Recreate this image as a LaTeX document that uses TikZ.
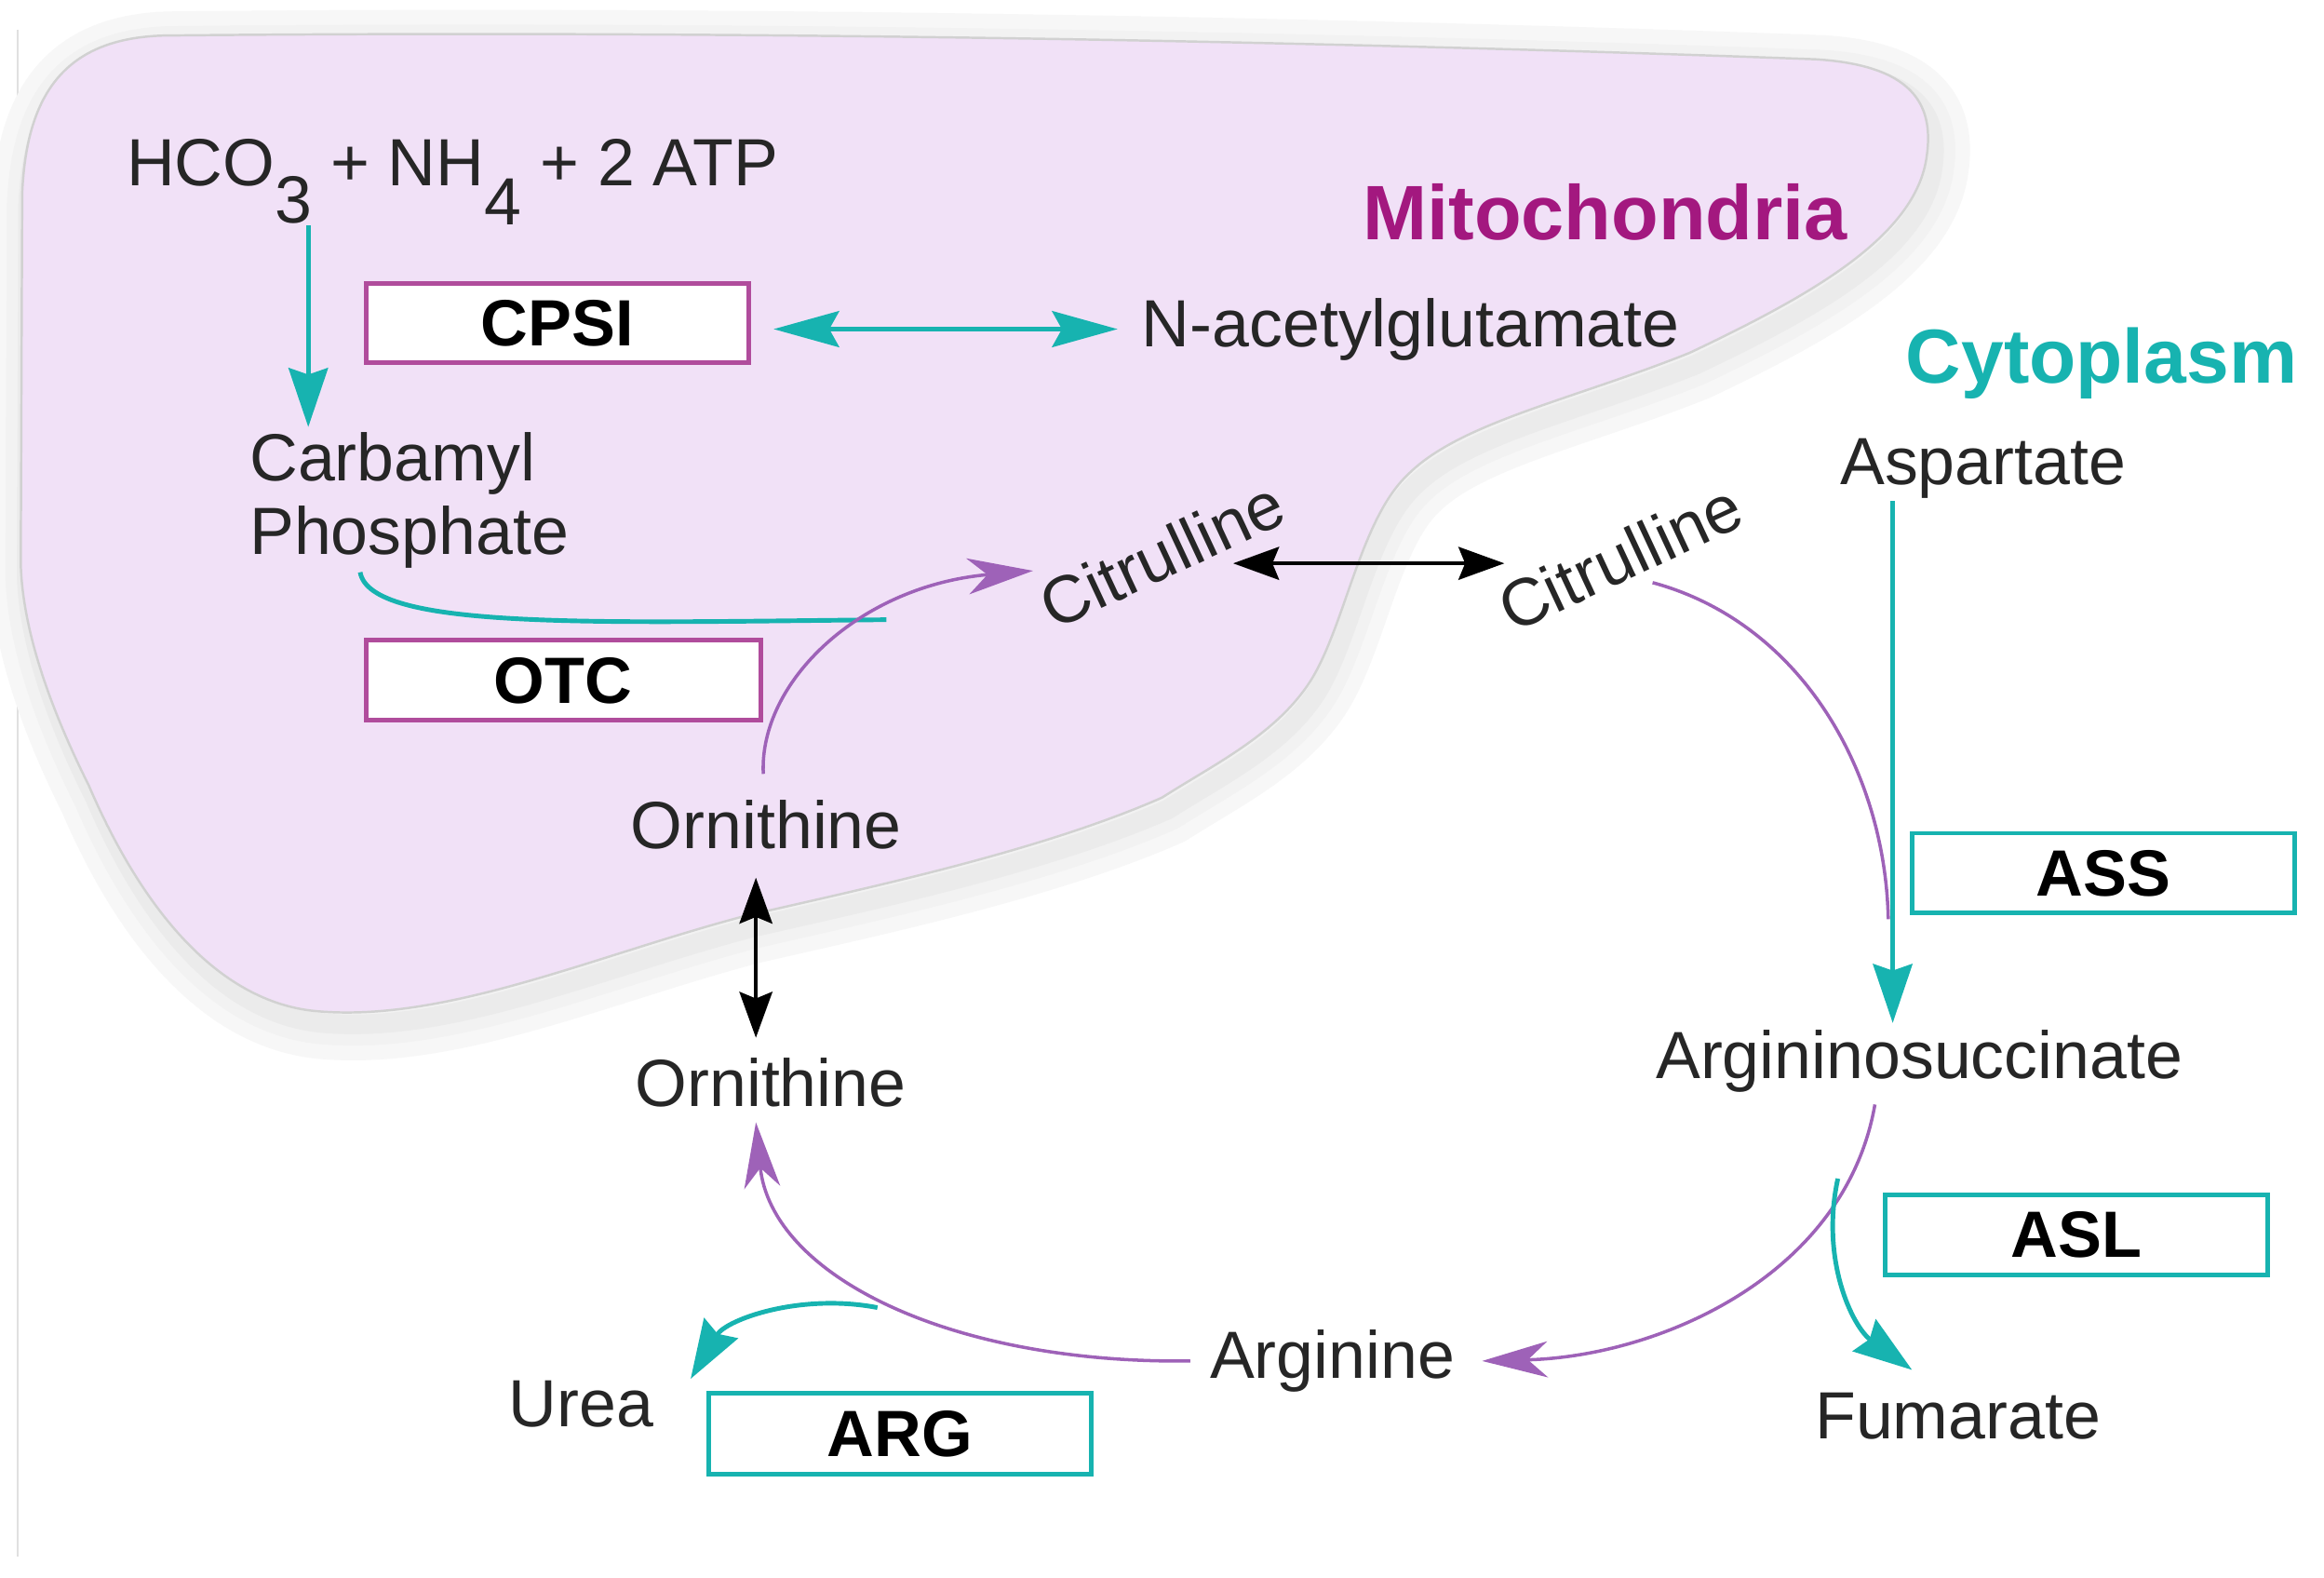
\documentclass[tikz,border=0pt]{standalone}
\usepackage{fontspec}
\setmainfont{Liberation Sans}
\usetikzlibrary{arrows.meta}
\definecolor{cyanL}{HTML}{17B3B0}
\definecolor{purp}{HTML}{9E62B8}
\definecolor{mag}{HTML}{B04C9C}
\definecolor{mitotxt}{HTML}{A3187F}
\definecolor{blobfill}{HTML}{F1E1F7}
\definecolor{txt}{HTML}{262626}
\newcommand\blobp{(15,130) .. controls (18,62) and (45,26) .. (110,24)
 .. controls (500,20) and (900,28) .. (1225,40)
 .. controls (1290,44) and (1305,70) .. (1300,105)
 .. controls (1293,160) and (1220,200) .. (1140,238)
 .. controls (1060,270) and (985,285) .. (950,320)
 .. controls (918,350) and (908,420) .. (885,458)
 .. controls (862,495) and (820,515) .. (784,538)
 .. controls (700,575) and (580,600) .. (502,618)
 .. controls (400,645) and (300,690) .. (213,682)
 .. controls (140,675) and (90,600) .. (60,530)
 .. controls (30,470) and (15,420) .. (14,380) -- cycle}
\begin{document}
\begin{tikzpicture}[x=0.15925mm,y=-0.15925mm,
  lbl/.style={font=\fontsize{20.4}{24}\selectfont, text=txt, inner sep=0pt},
  enz/.style={draw=#1, line width=1.4pt, fill=white, minimum width=41.1mm,
    minimum height=8.5mm, inner sep=0pt, font=\fontsize{20}{24}\selectfont\bfseries, text=black},
  cyarrow/.style={draw=cyanL, line width=1.4pt, -{Stealth[length=18pt,width=12pt,inset=2pt]}},
  cyline/.style={draw=cyanL, line width=1.4pt},
  cydouble/.style={draw=cyanL, line width=1.4pt, {Stealth[length=20pt,width=11pt,inset=3pt]}-{Stealth[length=20pt,width=11pt,inset=3pt]}},
  puarrow/.style={draw=purp, line width=1pt, -{Stealth[length=20pt,width=11pt,inset=6pt]}},
  puline/.style={draw=purp, line width=1pt},
  bkdouble/.style={draw=black, line width=1.3pt, {Stealth[length=14pt,width=10pt,inset=2pt]}-{Stealth[length=14pt,width=10pt,inset=2pt]}}
]
\useasboundingbox[fill=white] (0,0) rectangle (1568,1064);
\draw[black!12, line width=0.6pt] (12,20) -- (12,1050);
% mitochondria blob with soft shadow
\begin{scope}[shift={(4,8)}]
  \draw[black!3, line width=22pt, line join=round] \blobp;
  \draw[black!5, line width=13pt, line join=round] \blobp;
  \draw[black!8, line width=6pt, line join=round] \blobp;
\end{scope}
\fill[blobfill] \blobp;
\draw[black!18, line width=0.7pt] \blobp;

% labels
\node[lbl, anchor=base west] (hco) at (85,125) {HCO\raisebox{-11.5pt}{3} + NH\raisebox{-12pt}{4} + 2 ATP};
\node[font=\fontsize{23.6}{28}\selectfont\bfseries, text=mitotxt, inner sep=0pt] (mito) at (1083,143) {Mitochondria};
\node[font=\fontsize{23.4}{28}\selectfont\bfseries, text=cyanL, inner sep=0pt] (cyto) at (1418,245) {Cytoplasm};
\node[enz=mag] (cpsi) at (376,218) {CPSI};
\node[enz=mag, minimum width=42.4mm, minimum height=8.6mm] (otc) at (380,459) {OTC};
\node[enz=cyanL, minimum height=8.6mm] (ass) at (1419,589) {ASS};
\node[enz=cyanL, minimum height=8.6mm] (asl) at (1401,833) {ASL};
\node[enz=cyanL, minimum height=8.7mm] (arg) at (607,967) {ARG};
\node[lbl, anchor=west] (nag) at (770,222) {N-acetylglutamate};
\node[lbl, anchor=west] (carb) at (168,313) {Carbamyl};
\node[lbl, anchor=west] (phos) at (168,362) {Phosphate};
\node[lbl, rotate=25] (citL) at (784,374) {Citrulline};
\node[lbl, rotate=25] (citR) at (1093,376) {Citrulline};
\node[lbl] (asp) at (1338,316) {Aspartate};
\node[lbl] (ornA) at (517,556) {Ornithine};
\node[lbl] (ornB) at (520,730) {Ornithine};
\node[lbl] (argsuc) at (1295,716) {Argininosuccinate};
\node[lbl] (fum) at (1321,955) {Fumarate};
\node[lbl] (argn) at (899,918) {Arginine};
\node[lbl] (urea) at (392,947) {Urea};

% connector end points
\coordinate (hcoS) at (208,152);
\coordinate (carbN) at (208,288);
\coordinate (cpsiE) at (522,222);
\coordinate (nagW) at (754,222);
\coordinate (phosS) at (243,386);
\coordinate (otcJ) at (598,418);
\coordinate (ornAN) at (515,522);
\coordinate (citLW) at (697,385);
\coordinate (citLE) at (832,380);
\coordinate (citRW) at (1015,380);
\coordinate (citRS) at (1115,393);
\coordinate (assJ) at (1274,620);
\coordinate (aspS) at (1277,338);
\coordinate (argsucN) at (1277,690);
\coordinate (argsucS) at (1265,745);
\coordinate (aslJ) at (1240,795);
\coordinate (fumN) at (1290,924);
\coordinate (argnE) at (1000,918);
\coordinate (argnW) at (803,918);
\coordinate (ornBS) at (510,757);
\coordinate (argJ) at (592,882);
\coordinate (ureaN) at (466,930);
\coordinate (ornAS) at (510,592);
\coordinate (ornBN) at (510,700);

% connectors
\draw[cyarrow] (hcoS) -- (carbN);
\draw[cydouble] (cpsiE) -- (nagW);
\draw[cyline] (phosS) .. controls (250,425) and (400,420) .. (otcJ);
\draw[puarrow] (ornAN) .. controls (512,460) and (580,395) .. (citLW);
\draw[bkdouble] (citLE) -- (citRW);
\draw[bkdouble] (ornAS) -- (ornBN);
\draw[puline] (citRS) .. controls (1215,420) and (1272,520) .. (assJ);
\draw[cyarrow] (aspS) -- (argsucN);
\draw[puarrow] (argsucS) .. controls (1245,860) and (1120,915) .. (argnE);
\draw[cyarrow] (aslJ) .. controls (1228,850) and (1250,895) .. (fumN);
\draw[puarrow] (argnW) .. controls (640,920) and (520,860) .. (ornBS);
\draw[cyarrow] (argJ) .. controls (540,872) and (490,890) .. (ureaN);
\end{tikzpicture}
\end{document}
